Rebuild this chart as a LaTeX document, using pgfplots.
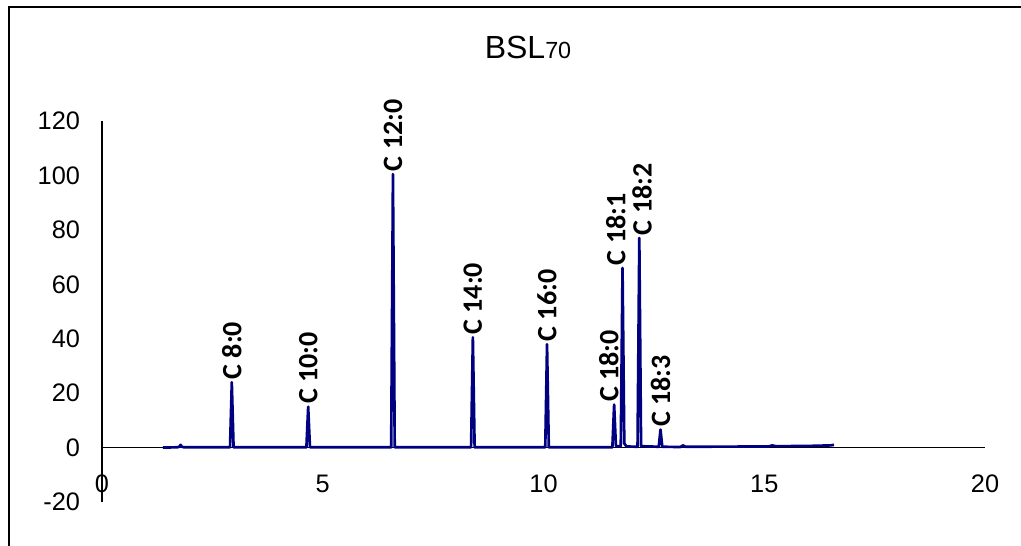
\documentclass[border=0pt]{standalone}
\usepackage{pgfplots}
\pgfplotsset{compat=1.18}
\usepackage{fontspec}
\setmainfont{Liberation Sans}
\newfontfamily\labfont{Carlito}
\definecolor{navyc}{RGB}{0,0,128}
\begin{document}
\begin{tikzpicture}
\useasboundingbox (0,0) rectangle (765.75pt,409.5pt);
\draw[line width=1.5pt] (6.5pt,-5pt) -- (6.5pt,404.6pt) -- (780pt,404.6pt);
\node[anchor=base, inner sep=0pt, font=\fontsize{24}{28}\selectfont] at (396pt,365.25pt) {BSL{\fontsize{17.5}{20}\selectfont 70}};
\begin{axis}[
  at={(76.5pt,33pt)}, anchor=south west,
  scale only axis, width=662.25pt, height=285.75pt,
  xmin=0, xmax=20, ymin=-20, ymax=120,
  axis x line=middle, axis y line=left,
  axis line style={-, line width=0.8pt, black},
  xtick={0,5,10,15,20}, ytick={-20,0,20,40,60,80,100,120},
  major tick length=0pt,
  hide obscured x ticks=false, hide obscured y ticks=false,
  /pgf/number format/assume math mode=true,
  tick label style={font=\fontsize{19}{22}\selectfont},
  x tick label style={yshift=-17pt},
  y tick label style={xshift=-13pt},
  clip=false,
]
\addplot[navyc, line width=2pt, line join=round] coordinates {
(1.38,0) (1.70,0.1) (1.75,0.3) (1.78,1.0) (1.81,0.3) (1.86,0.1)
(2.90,0.1) (2.94,24) (2.98,0.1)
(4.63,0.1) (4.67,15) (4.71,0.1)
(6.55,0.1) (6.59,100.5) (6.63,0.1)
(8.36,0.1) (8.40,40.5) (8.44,0.1)
(10.04,0.1) (10.08,38) (10.12,0.1)
(11.56,0.1) (11.60,15.8) (11.64,0.5) (11.75,0.5) (11.79,66) (11.83,1.5) (11.88,0.4)
(12.13,0.3) (12.17,77) (12.21,0.5) (12.61,0.3) (12.65,6.6) (12.69,0.3)
(13.10,0.2) (13.16,0.8) (13.22,0.3) (15.10,0.4) (15.18,0.8) (15.26,0.5)
(16.0,0.6) (16.5,0.8) (16.58,1.0)
};
\addplot[draw=none, mark=none, nodes near coords, point meta=explicit symbolic,
  nodes near coords style={rotate=90, anchor=west, inner sep=2pt,
    font=\labfont\bfseries\fontsize{21}{24}\selectfont}] coordinates {
(2.94,24) [C 8:0]
(4.67,15) [C 10:0]
(6.59,100.5) [C 12:0]
(8.40,40.5) [C 14:0]
(10.08,38) [C 16:0]
(11.48,15.8) [C 18:0]
(11.64,66) [C 18:1]
(12.23,77) [C 18:2]
(12.65,6.6) [C 18:3]
};
\end{axis}
\end{tikzpicture}
\end{document}
